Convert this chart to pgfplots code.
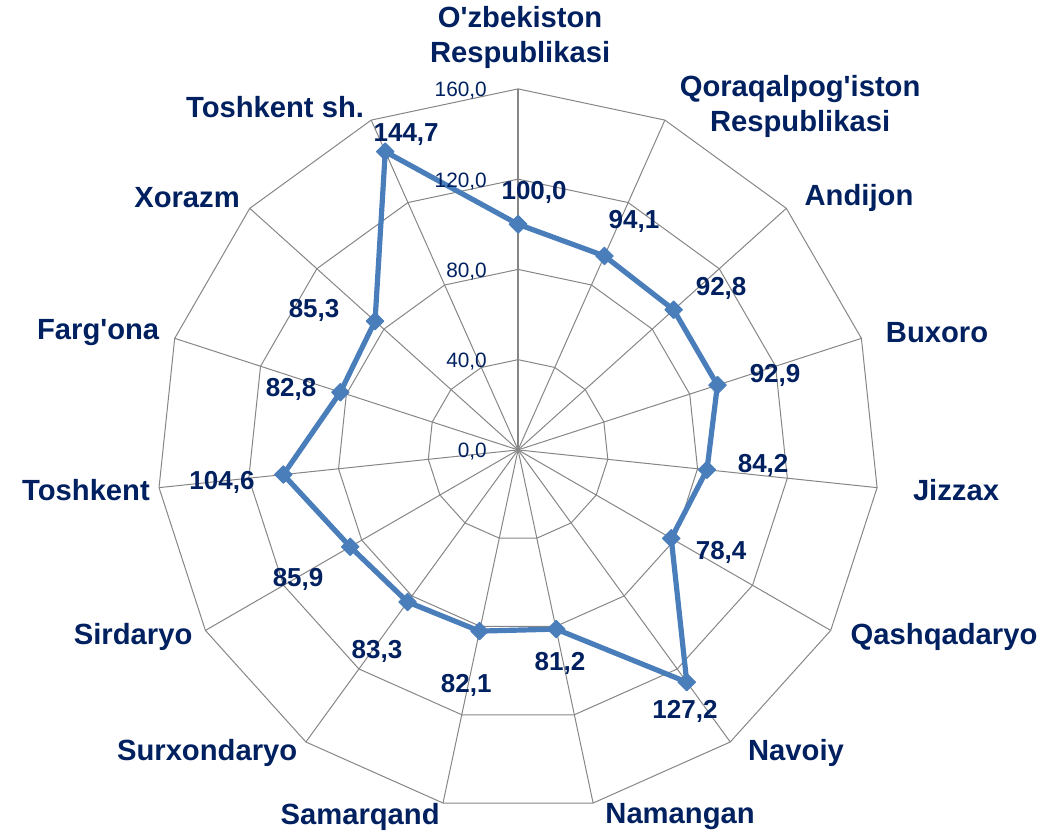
\documentclass[border=0pt]{standalone}
\usepackage{fontspec}
\setmainfont{Liberation Sans}
\usepackage{pgfplots}
\pgfplotsset{compat=1.18}
\usepgfplotslibrary{polar}
\definecolor{navy}{RGB}{0,32,96}
\definecolor{gridc}{RGB}{134,134,134}
\definecolor{ser}{RGB}{74,126,187}
\tikzset{
  cat/.style={font=\fontsize{14.6}{17.5}\selectfont\bfseries, text=navy, align=center},
  val/.style={font=\fontsize{13}{15}\selectfont\bfseries, text=navy},
  tck/.style={font=\fontsize{10.4}{12}\selectfont, text=navy, anchor=east, inner sep=0pt},
}
\begin{document}
\begin{tikzpicture}
\begin{axis}[
  x=1.128125pt, y=1.128125pt,
  xmin=-229.6, xmax=236.2, ymin=-170.6, ymax=199.4,
  hide axis, clip=false,
]
% spokes
\pgfplotsinvokeforeach{66,42,18,-6,-30,-54,-78,-102,-126,-150,-174,-198,-222,-246}{
  \addplot[gridc, line width=0.5pt, data cs=polar, forget plot] coordinates {(#1,0) (#1,160)};
}
% polygon grid
\pgfplotsinvokeforeach{40,80,120,160}{
  \addplot[gridc, line width=0.5pt, data cs=polar, forget plot] coordinates {
    (90,#1) (66,#1) (42,#1) (18,#1) (-6,#1) (-30,#1) (-54,#1) (-78,#1)
    (-102,#1) (-126,#1) (-150,#1) (-174,#1) (-198,#1) (-222,#1) (-246,#1) (90,#1)};
}
% value axis
\addplot[gridc, line width=1pt, data cs=polar, forget plot] coordinates {(90,0) (90,160)};
% data
\addplot[ser, line width=2.6pt, line join=round, data cs=polar,
  mark=square*, mark size=3.1pt, mark options={fill=ser, draw=ser, line width=0.5pt, rotate=45}] coordinates {
  (90,100.0) (66,94.1) (42,92.8) (18,92.9) (-6,84.2) (-30,78.4) (-54,127.2)
  (-78,81.2) (-102,82.1) (-126,83.3) (-150,85.9) (-174,104.6) (-198,82.8)
  (-222,85.3) (-246,144.7) (90,100.0)};
% tick labels
\node[tck] at (axis cs:-13.7,-0.9) {0,0};
\node[tck] at (axis cs:-13.7,39.1) {40,0};
\node[tck] at (axis cs:-13.7,79.1) {80,0};
\node[tck] at (axis cs:-13.7,119.1) {120,0};
\node[tck] at (axis cs:-13.7,159.1) {160,0};
% category labels
\node[cat] at (axis cs:0.9,182.6) {O\textquotesingle zbekiston\\Respublikasi};
\node[cat] at (axis cs:125.0,152.0) {Qoraqalpog\textquotesingle iston\\Respublikasi};
\node[cat] at (axis cs:151.1,111.7) {Andijon};
\node[cat] at (axis cs:185.7,51.9) {Buxoro};
\node[cat] at (axis cs:194.1,-17.7) {Jizzax};
\node[cat] at (axis cs:188.8,-82.9) {Qashqadaryo};
\node[cat] at (axis cs:123.2,-134.3) {Navoiy};
\node[cat] at (axis cs:71.8,-162.7) {Namangan};
\node[cat] at (axis cs:-70.0,-162.7) {Samarqand};
\node[cat] at (axis cs:-137.8,-134.3) {Surxondaryo};
\node[cat] at (axis cs:-170.6,-82.9) {Sirdaryo};
\node[cat] at (axis cs:-191.5,-17.7) {Toshkent};
\node[cat] at (axis cs:-186.1,51.9) {Farg\textquotesingle ona};
\node[cat] at (axis cs:-146.7,111.7) {Xorazm};
\node[cat] at (axis cs:-107.7,152.0) {Toshkent sh.};
% value labels
\node[val] at (axis cs:7.1,113.9) {100,0};
\node[val] at (axis cs:51.4,101.1) {94,1};
\node[val] at (axis cs:90.0,71.4) {92,8};
\node[val] at (axis cs:113.9,32.8) {92,9};
\node[val] at (axis cs:108.6,-7.1) {84,2};
\node[val] at (axis cs:90.0,-45.6) {78,4};
\node[val] at (axis cs:74.0,-116.1) {127,2};
\node[val] at (axis cs:18.6,-94.8) {81,2};
\node[val] at (axis cs:-23.0,-104.6) {82,1};
\node[val] at (axis cs:-62.5,-89.1) {83,3};
\node[val] at (axis cs:-97.5,-57.6) {85,9};
\node[val] at (axis cs:-131.2,-14.2) {104,6};
\node[val] at (axis cs:-100.6,27.0) {82,8};
\node[val] at (axis cs:-90.4,62.0) {85,3};
\node[val] at (axis cs:-49.6,139.6) {144,7};
\path (axis cs:-229.6,-170.6) rectangle (axis cs:236.2,199.4);
\end{axis}
\end{tikzpicture}
\end{document}
